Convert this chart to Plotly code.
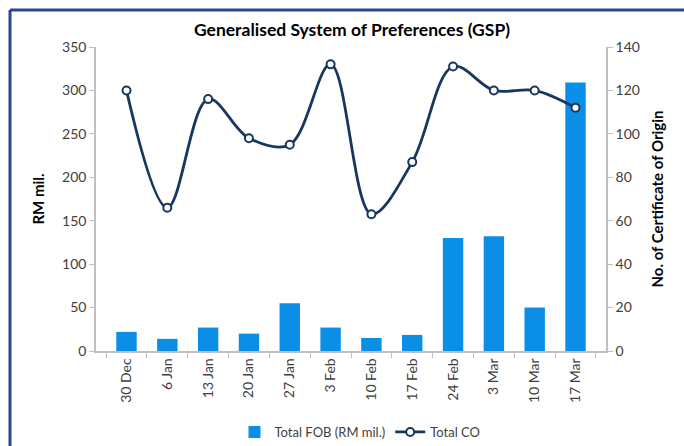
import plotly.graph_objects as go

categories = ["30 Dec", "6 Jan", "13 Jan", "20 Jan", "27 Jan", "3 Feb", "10 Feb",
              "17 Feb", "24 Feb", "3 Mar", "10 Mar", "17 Mar"]
total_fob = [22, 14, 27, 20, 55, 27, 15, 18.5, 130, 132, 50, 309]
total_co = [120, 66, 116, 98, 95, 132, 63, 87, 131, 120, 120, 112]

OFF = 0  # body margin removed via post_script
W, H = 684, 446
L, R, T, B = 96, 684 - 606, 47, 446 - 351
pw, ph = W - L - R, H - T - B

def px(x):
    return (x - OFF - L) / pw

def py(y):
    return (H - B - (y - OFF)) / ph

font = "Lato"
fig = go.Figure()
fig.add_trace(go.Bar(x=categories, y=total_fob, name="Total FOB (RM mil.)",
                     marker=dict(color="#0b8fe6", line=dict(width=0)), yaxis="y"))
fig.add_trace(go.Scatter(x=categories, y=total_co, name="Total CO", yaxis="y2",
                         mode="lines+markers",
                         line=dict(color="#17375e", width=2.8, shape="spline", smoothing=1.0),
                         marker=dict(size=8, color="white", line=dict(color="#17375e", width=2))))

border = "#2b4495"
fig.update_layout(
    width=W, height=H,
    margin=dict(l=L, r=R, t=T, b=B, autoexpand=False),
    paper_bgcolor="white", plot_bgcolor="white",
    font=dict(family=font, size=14, color="#404040"),
    title=dict(text="<b>Generalised System of Preferences (GSP)</b>",
               x=(352 - OFF) / W, xref="container", xanchor="center",
               y=1 - (30 - OFF) / H, yref="container", yanchor="middle",
               font=dict(size=17.5, color="black", family=font)),
    bargap=0.5,
    showlegend=True,
    legend=dict(orientation="h", x=px(360), xanchor="center", y=py(432), yanchor="middle",
                font=dict(size=13, color="#404040"), bgcolor="rgba(0,0,0,0)"),
    xaxis=dict(showline=True, linecolor="#bfbfbf", linewidth=1.5, ticks="outside",
               tickcolor="#bfbfbf", ticklen=5, tickson="boundaries", tickangle=-90,
               showgrid=False, automargin=False, tickfont=dict(size=14, color="#404040")),
    yaxis=dict(range=[0, 350], dtick=50, showline=True, linecolor="#bfbfbf", linewidth=1.5,
               ticks="outside", tickcolor="#bfbfbf", ticklen=5, showgrid=False, zeroline=False,
               automargin=False,
               title=dict(text="<b>RM mil.</b>", font=dict(size=15, color="black"), standoff=14)),
    yaxis2=dict(range=[0, 140], dtick=20, overlaying="y", side="right", showline=True,
                linecolor="#bfbfbf", linewidth=1.5, ticks="outside", tickcolor="#bfbfbf",
                ticklen=5, showgrid=False, zeroline=False, automargin=False,
                title=dict(text="<b>No. of Certificate of Origin</b>", font=dict(size=15, color="black"),
                           standoff=14)),
    shapes=[
        dict(type="line", xref="paper", yref="paper", x0=px(10), x1=px(690), y0=py(10), y1=py(10),
             line=dict(color=border, width=3)),
        dict(type="line", xref="paper", yref="paper", x0=px(10), x1=px(10), y0=py(10), y1=py(450),
             line=dict(color=border, width=3)),
    ],
)

fig.write_html("out.html", config={"displayModeBar": False},
               post_script="document.body.style.margin='0';document.body.style.overflow='hidden';")
